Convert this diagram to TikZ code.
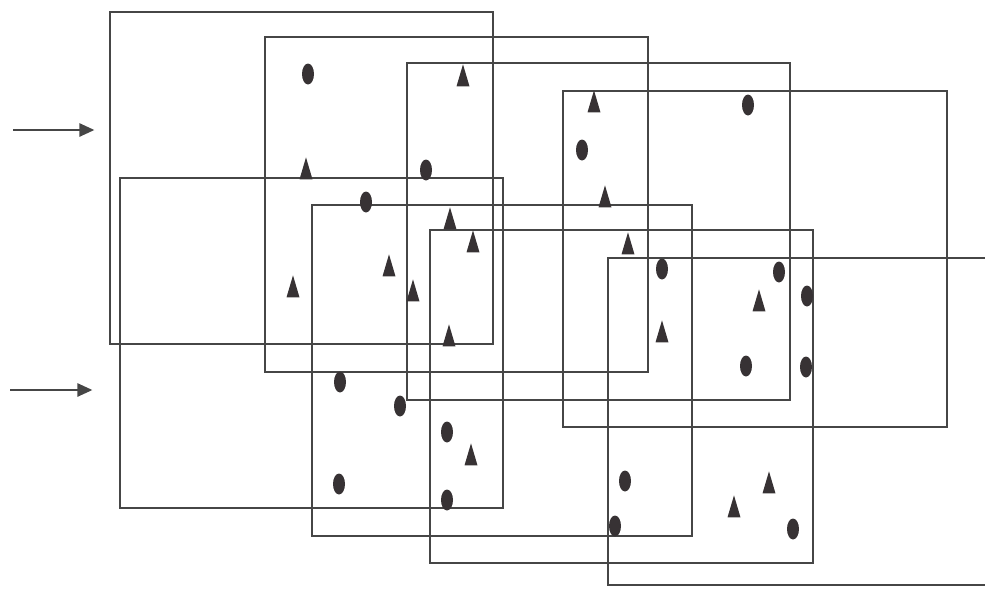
\documentclass[tikz,border=0pt]{standalone}
\usetikzlibrary{positioning,fit,shapes.geometric,arrows.meta}
\definecolor{linegray}{RGB}{70,70,70}
\definecolor{markgray}{RGB}{55,50,52}

\begin{document}
\begin{tikzpicture}[
    x=0.02cm, y=-0.02cm,
    frame/.style={
        draw=linegray, line width=0.8pt,
        inner sep=0pt
    },
    dot/.style={
        ellipse, fill=markgray, inner sep=0pt,
        minimum width=0.24cm, minimum height=0.42cm
    },
    tri/.style={
        isosceles triangle, isosceles triangle stretches,
        shape border rotate=90, fill=markgray, inner sep=0pt,
        minimum width=0.26cm, minimum height=0.44cm,
        yshift=-0.09cm
    },
    arrow/.style={-{Triangle[length=0.3cm,width=0.27cm]},line width=0.8pt,draw=linegray}
]
\useasboundingbox (0,0) rectangle (985,589);
\clip (0,0) rectangle (985,589);

% upper row of frames
\node[frame, fit={(110,12) (493,344)}] (a) {};
\node[frame, fit={(265,37) (648,372)}] (b) {};
\node[frame, fit={(407,63) (790,400)}] (c) {};
\node[frame, fit={(563,91) (947,427)}] (d) {};
% lower row of frames
\node[frame, fit={(120,178) (503,508)}] (e) {};
\node[frame, fit={(312,205) (692,536)}] (f) {};
\node[frame, fit={(430,230) (813,563)}] (g) {};
\node[frame, fit={(608,258) (1000,585)}] (h) {};

% inputs
\coordinate (in1) at (13,130);
\coordinate (in2) at (10,390);
\draw[arrow, shorten >=0.3cm] (in1) -- (in1 -| a.west);
\draw[arrow, shorten >=0.54cm] (in2) -- (in2 -| e.west);

% circles
\foreach \px/\py [count=\i] in {308/74, 426/170, 366/202, 748/105, 582/150,
    662/269, 779/272, 807/296, 746/366, 806/367, 340/382, 400/406,
    447/432, 339/484, 447/500, 625/481, 615/526, 793/529}
    \node[dot] (o\i) at (\px,\py) {};

% triangles
\foreach \px/\py [count=\i] in {463/77, 306/170, 450/220, 473/243, 389/267,
    293/288, 413/292, 449/337, 594/103, 605/198, 628/245, 759/302,
    662/333, 471/456, 769/484, 734/508}
    \node[tri] (t\i) at (\px,\py) {};
\end{tikzpicture}
\end{document}
